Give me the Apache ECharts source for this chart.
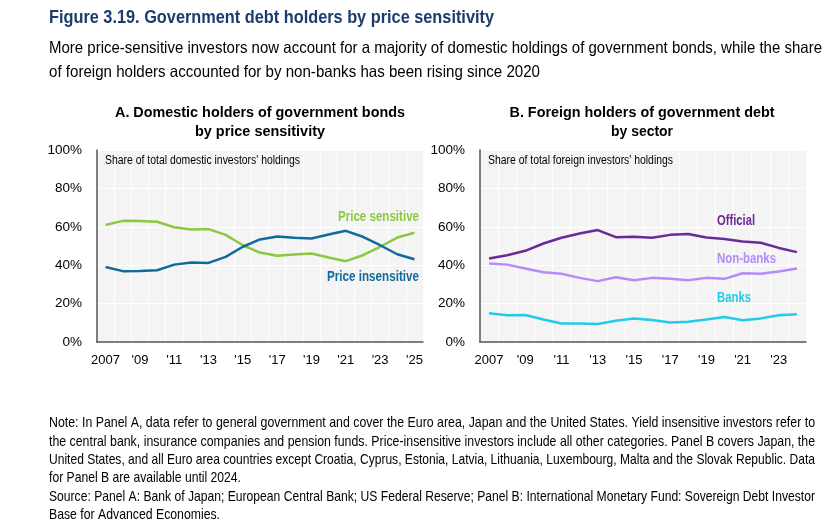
<!DOCTYPE html>
<html>
<head>
<meta charset="utf-8">
<script src="https://cdn.jsdelivr.net/npm/echarts@6/dist/echarts.min.js"></script>
<style>
  html, body { margin: 0; padding: 0; background: #fff; }
  #chart { width: 837px; height: 525px; }
</style>
</head>
<body>
<div id="chart"></div>
<script>
// Panel A: domestic holders, 2007-2025
var yearsA = ['2007','2008','2009','2010','2011','2012','2013','2014','2015','2016','2017','2018','2019','2020','2021','2022','2023','2024','2025'];
var priceSensitive = [60.9, 63.1, 63.0, 62.6, 59.8, 58.6, 58.8, 55.8, 50.4, 46.6, 44.9, 45.6, 46.1, 44.0, 42.1, 45.2, 49.6, 54.4, 56.9];
var priceInsensitive = [39.1, 36.9, 37.0, 37.4, 40.3, 41.4, 41.2, 44.3, 49.6, 53.4, 55.0, 54.3, 53.9, 56.0, 57.9, 54.8, 50.4, 45.7, 43.1];

// Panel B: foreign holders, 2007-2024
var yearsB = ['2007','2008','2009','2010','2011','2012','2013','2014','2015','2016','2017','2018','2019','2020','2021','2022','2023','2024'];
var official = [43.5, 45.2, 47.5, 51.3, 54.3, 56.5, 58.3, 54.6, 54.8, 54.3, 55.8, 56.3, 54.4, 53.6, 52.3, 51.7, 49.0, 46.8];
var nonBanks = [40.9, 40.3, 38.3, 36.3, 35.5, 33.4, 31.7, 33.7, 32.2, 33.4, 33.0, 32.2, 33.4, 32.9, 35.8, 35.5, 36.7, 38.3];
var banks = [15.0, 13.9, 14.1, 11.7, 9.6, 9.6, 9.4, 11.1, 12.2, 11.5, 10.1, 10.6, 11.7, 13.0, 11.3, 12.3, 13.9, 14.4];

var FONT = '"Liberation Sans", Arial, sans-serif';
var GREEN = '#8cc83f', BLUE = '#106b9b';
var PURPLE = '#6a2a99', LAVENDER = '#b38cf7', CYAN = '#22cbea';

// the reference uses a narrow font, so squeeze text horizontally to its measured width
var ctx = document.createElement('canvas').getContext('2d');
function squeeze(text, size, weight, width) {
  ctx.font = (weight || 'normal') + ' ' + size + 'px ' + FONT;
  return width / ctx.measureText(text).width;
}

// text centred vertically at y; align left/right/center around x; squeezed to width
function txt(x, y, text, size, weight, width, fill, align) {
  return {
    type: 'text', x: x, y: y, z: 10,
    scaleX: width ? squeeze(text, size, weight, width) : 1,
    style: {
      text: text, fontFamily: FONT, fontSize: size, fontWeight: weight || 'normal',
      fill: fill || '#000', align: align || 'left', verticalAlign: 'middle'
    }
  };
}

function yearLabel(v) {
  return v === '2007' ? '2007' : "'" + v.slice(2);
}

function xAxis(gridIndex, data) {
  return {
    type: 'category', gridIndex: gridIndex, data: data, boundaryGap: true,
    axisLine: { lineStyle: { color: '#555555', width: 1.5 } },
    axisTick: { show: false },
    axisLabel: { interval: 1, formatter: yearLabel, color: '#000', fontFamily: FONT, fontSize: 13, margin: 12 },
    splitLine: { show: true, interval: 0, lineStyle: { color: '#ffffff', width: 1 } }
  };
}

function yAxis(gridIndex) {
  return {
    type: 'value', gridIndex: gridIndex, min: 0, max: 100, interval: 20,
    axisLine: { show: true, lineStyle: { color: '#555555', width: 1.5 } },
    axisTick: { show: false },
    axisLabel: { formatter: '{value}%', color: '#000', fontFamily: FONT, fontSize: 13.5, margin: 15 },
    splitLine: { lineStyle: { color: '#ffffff', width: 1 } }
  };
}

function line(name, x, data, color) {
  return {
    name: name, type: 'line', xAxisIndex: x, yAxisIndex: x, data: data,
    symbol: 'none', lineStyle: { color: color, width: 2.5 }, itemStyle: { color: color }
  };
}

var notes = [
  'Note: In Panel A, data refer to general government and cover the Euro area, Japan and the United States. Yield insensitive investors refer to',
  'the central bank, insurance companies and pension funds. Price-insensitive investors include all other categories. Panel B covers Japan, the',
  'United States, and all Euro area countries except Croatia, Cyprus, Estonia, Latvia, Lithuania, Luxembourg, Malta and the Slovak Republic. Data',
  'for Panel B are available until 2024.',
  'Source: Panel A: Bank of Japan; European Central Bank; US Federal Reserve; Panel B: International Monetary Fund: Sovereign Debt Investor',
  'Base for Advanced Economies.'
];
var noteWidths = [766, 766, 766, 192, 766, 171];

var graphics = [
  txt(49, 18, 'Figure 3.19. Government debt holders by price sensitivity', 18, 'bold', 445, '#1c3c6e'),
  txt(49, 48, 'More price-sensitive investors now account for a majority of domestic holdings of government bonds, while the share', 16.5, 'normal', 773),
  txt(49, 72, 'of foreign holders accounted for by non-banks has been rising since 2020', 16.5, 'normal', 491),
  txt(260, 113, 'A. Domestic holders of government bonds', 15, 'bold', 290, '#000', 'center'),
  txt(260, 132, 'by price sensitivity', 15, 'bold', 130, '#000', 'center'),
  txt(642, 113, 'B. Foreign holders of government debt', 15, 'bold', 265, '#000', 'center'),
  txt(642, 132, 'by sector', 15, 'bold', 62, '#000', 'center'),
  txt(105, 161, "Share of total domestic investors' holdings", 12, 'normal', 195),
  txt(488, 161, "Share of total foreign investors' holdings", 12, 'normal', 185),
  txt(419, 217, 'Price sensitive', 15.5, 'bold', 81, GREEN, 'right'),
  txt(419, 277, 'Price insensitive', 15.5, 'bold', 92, BLUE, 'right'),
  txt(717, 221, 'Official', 15.5, 'bold', 38, PURPLE),
  txt(717, 259, 'Non-banks', 15.5, 'bold', 59, LAVENDER),
  txt(717, 298, 'Banks', 15.5, 'bold', 34, CYAN)
];
notes.forEach(function (l, i) {
  graphics.push(txt(49, 423.3 + i * 18.33, l, 15, 'normal', noteWidths[i]));
});

var chart = echarts.init(document.getElementById('chart'), null, { renderer: 'canvas' });
chart.setOption({
  animation: false,
  backgroundColor: '#fff',
  grid: [
    { left: 97, top: 150, width: 326, height: 192, show: true, backgroundColor: '#f4f4f4', borderWidth: 0 },
    { left: 480, top: 150, width: 326, height: 192, show: true, backgroundColor: '#f4f4f4', borderWidth: 0 }
  ],
  xAxis: [xAxis(0, yearsA), xAxis(1, yearsB)],
  yAxis: [yAxis(0), yAxis(1)],
  series: [
    line('Price sensitive', 0, priceSensitive, GREEN),
    line('Price insensitive', 0, priceInsensitive, BLUE),
    line('Official', 1, official, PURPLE),
    line('Non-banks', 1, nonBanks, LAVENDER),
    line('Banks', 1, banks, CYAN)
  ],
  graphic: graphics
});
</script>
</body>
</html>
